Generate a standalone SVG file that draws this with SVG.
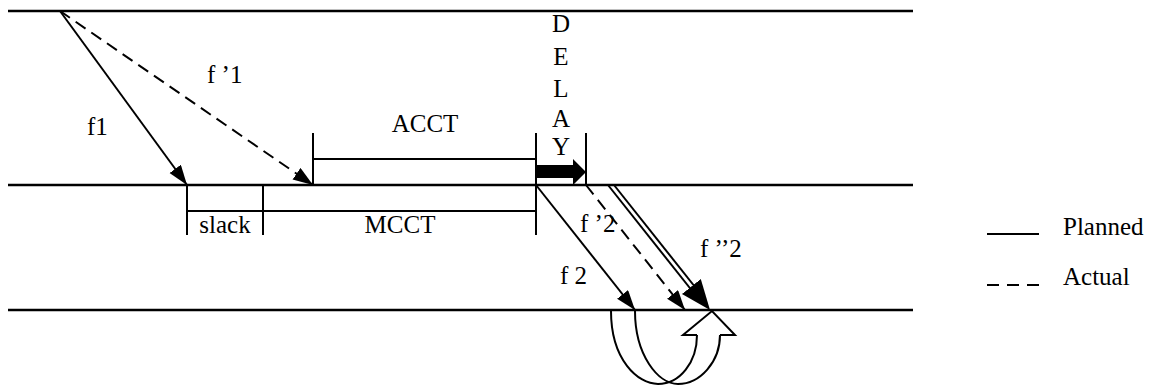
<svg xmlns="http://www.w3.org/2000/svg" width="1153" height="385" viewBox="0 0 1153 385">
<style>
text{font-family:"Liberation Serif","DejaVu Serif","Times New Roman",serif;font-size:25px;fill:#000}
.ln{stroke:#000;stroke-width:2;fill:none}
.hl{stroke:#000;stroke-width:2.5;fill:none}
.ds{stroke-dasharray:12 7}
</style>
<defs>
<marker id="ah" markerUnits="userSpaceOnUse" markerWidth="22" markerHeight="16" refX="20" refY="7" orient="auto">
<path d="M0,0 L20,7 L0,14 z" fill="#000"/>
</marker>
<marker id="ahb" markerUnits="userSpaceOnUse" markerWidth="32" markerHeight="26" refX="30" refY="12" orient="auto">
<path d="M0,0 L30,12 L0,24 z" fill="#000"/>
</marker>
</defs>
<g id="timelines">
<line class="hl" x1="8" y1="11" x2="913" y2="11"/>
<line class="hl" x1="8" y1="185" x2="913" y2="185"/>
<line class="hl" x1="8" y1="310" x2="913" y2="310"/>
</g>
<g id="acct" font-family="Liberation Serif, serif">
<path class="ln" d="M313,133 V185 M313,159 H536"/>
<text x="425" y="132" text-anchor="middle">ACCT</text>
</g>
<g id="slack" font-family="Liberation Serif, serif">
<path class="ln" d="M187,185 V235 M263,185 V235 M187,211 H263"/>
<text x="225" y="233" text-anchor="middle">slack</text>
</g>
<g id="mcct" font-family="Liberation Serif, serif">
<path class="ln" d="M263,211 H536 M536,133 V235"/>
<text x="400" y="233" text-anchor="middle">MCCT</text>
</g>
<g id="delay" font-family="Liberation Serif, serif">
<path class="ln" d="M586,133 V185"/>
<polygon points="536,165 573,165 573,159 586,172 573,185 573,178 536,178" fill="#000"/>
<text x="561" y="32" text-anchor="middle">D</text>
<text x="561" y="65" text-anchor="middle">E</text>
<text x="561" y="97" text-anchor="middle">L</text>
<text x="561" y="127" text-anchor="middle">A</text>
<text x="561" y="155" text-anchor="middle">Y</text>
</g>
<g id="connectors">
<line class="ln" x1="60" y1="11" x2="187" y2="185" marker-end="url(#ah)"/>
<line class="ln ds" x1="60" y1="11" x2="313" y2="185" marker-end="url(#ah)"/>
<line class="ln" x1="536" y1="185" x2="635" y2="310" marker-end="url(#ah)"/>
<line class="ln ds" x1="586" y1="185" x2="685" y2="310" marker-end="url(#ah)"/>
<line class="ln" x1="608" y1="185" x2="697" y2="297"/>
<line class="ln" x1="614" y1="185" x2="703" y2="297"/>
<line x1="611" y1="185" x2="710" y2="310" stroke="none" stroke-width="2" marker-end="url(#ahb)"/>
</g>
<g id="labels" font-family="Liberation Serif, serif">
<text x="87" y="135">f1</text>
<text x="207" y="83">f ’1</text>
<text x="580" y="232">f ’2</text>
<text x="700" y="257">f ’’2</text>
<text x="560" y="284">f 2</text>
</g>
<g id="uturn">
<path class="ln" d="M611,311 C611,360 638,384 658,384 C680,384 697,362 697,335"/>
<path class="ln" d="M635,311 C635,355 658,384 678,384 C700,384 720,362 720,335"/>
<polyline class="ln" points="697,335 683,335 712,311 735,335 720,335"/>
</g>
<g id="legend" font-family="Liberation Serif, serif">
<line class="ln" x1="987" y1="234" x2="1039" y2="234"/>
<line class="ln" x1="987" y1="285" x2="1039" y2="285" stroke-dasharray="12 8"/>
<text x="1063" y="235">Planned</text>
<text x="1063" y="285">Actual</text>
</g>
</svg>
